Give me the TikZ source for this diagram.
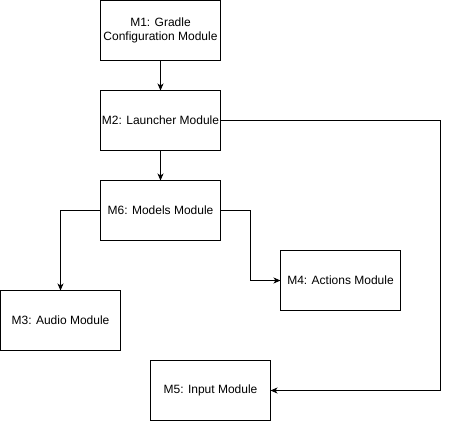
\documentclass[tikz,border=0pt]{standalone}
\usepackage{fontspec}
\setmainfont{Liberation Sans}
\usetikzlibrary{arrows.meta}
\begin{document}
\begin{tikzpicture}[x=1pt,y=-1pt,
  modbox/.style={draw=black,line width=1pt,minimum width=120pt,minimum height=60pt,inner sep=0pt,outer sep=0pt,align=center,font=\fontsize{12}{14}\selectfont,anchor=north west},
  conn/.style={draw=black,line width=1pt,-{Stealth[length=7pt,width=6pt,inset=2pt]}}]
\useasboundingbox (0,0) rectangle (449,421);
\node[modbox] (m1) at (100.5,0.5) {M1: Gradle\\Configuration Module};
\node[modbox] (m2) at (100.5,90.5) {M2: Launcher Module};
\node[modbox] (m6) at (100.5,180.5) {M6: Models Module};
\node[modbox] (m4) at (280.5,250.5) {M4: Actions Module};
\node[modbox] (m3) at (0.5,290.5) {M3: Audio Module};
\node[modbox] (m5) at (150.5,360.5) {M5: Input Module};
\coordinate (cl) at (60.5,210.5);
\coordinate (cr) at (250.5,210.5);
\coordinate (cf) at (440.5,120.5);
\draw[conn] (m1.south) -- (m2.north);
\draw[conn] (m2.south) -- (m6.north);
\draw[conn] (m6.west) -- (cl) -- (cl |- m3.north);
\draw[conn] (m6.east) -- (cr) |- (m4.west);
\draw[conn] (m2.east) -- (cf) |- (m5.east);
\end{tikzpicture}
\end{document}
